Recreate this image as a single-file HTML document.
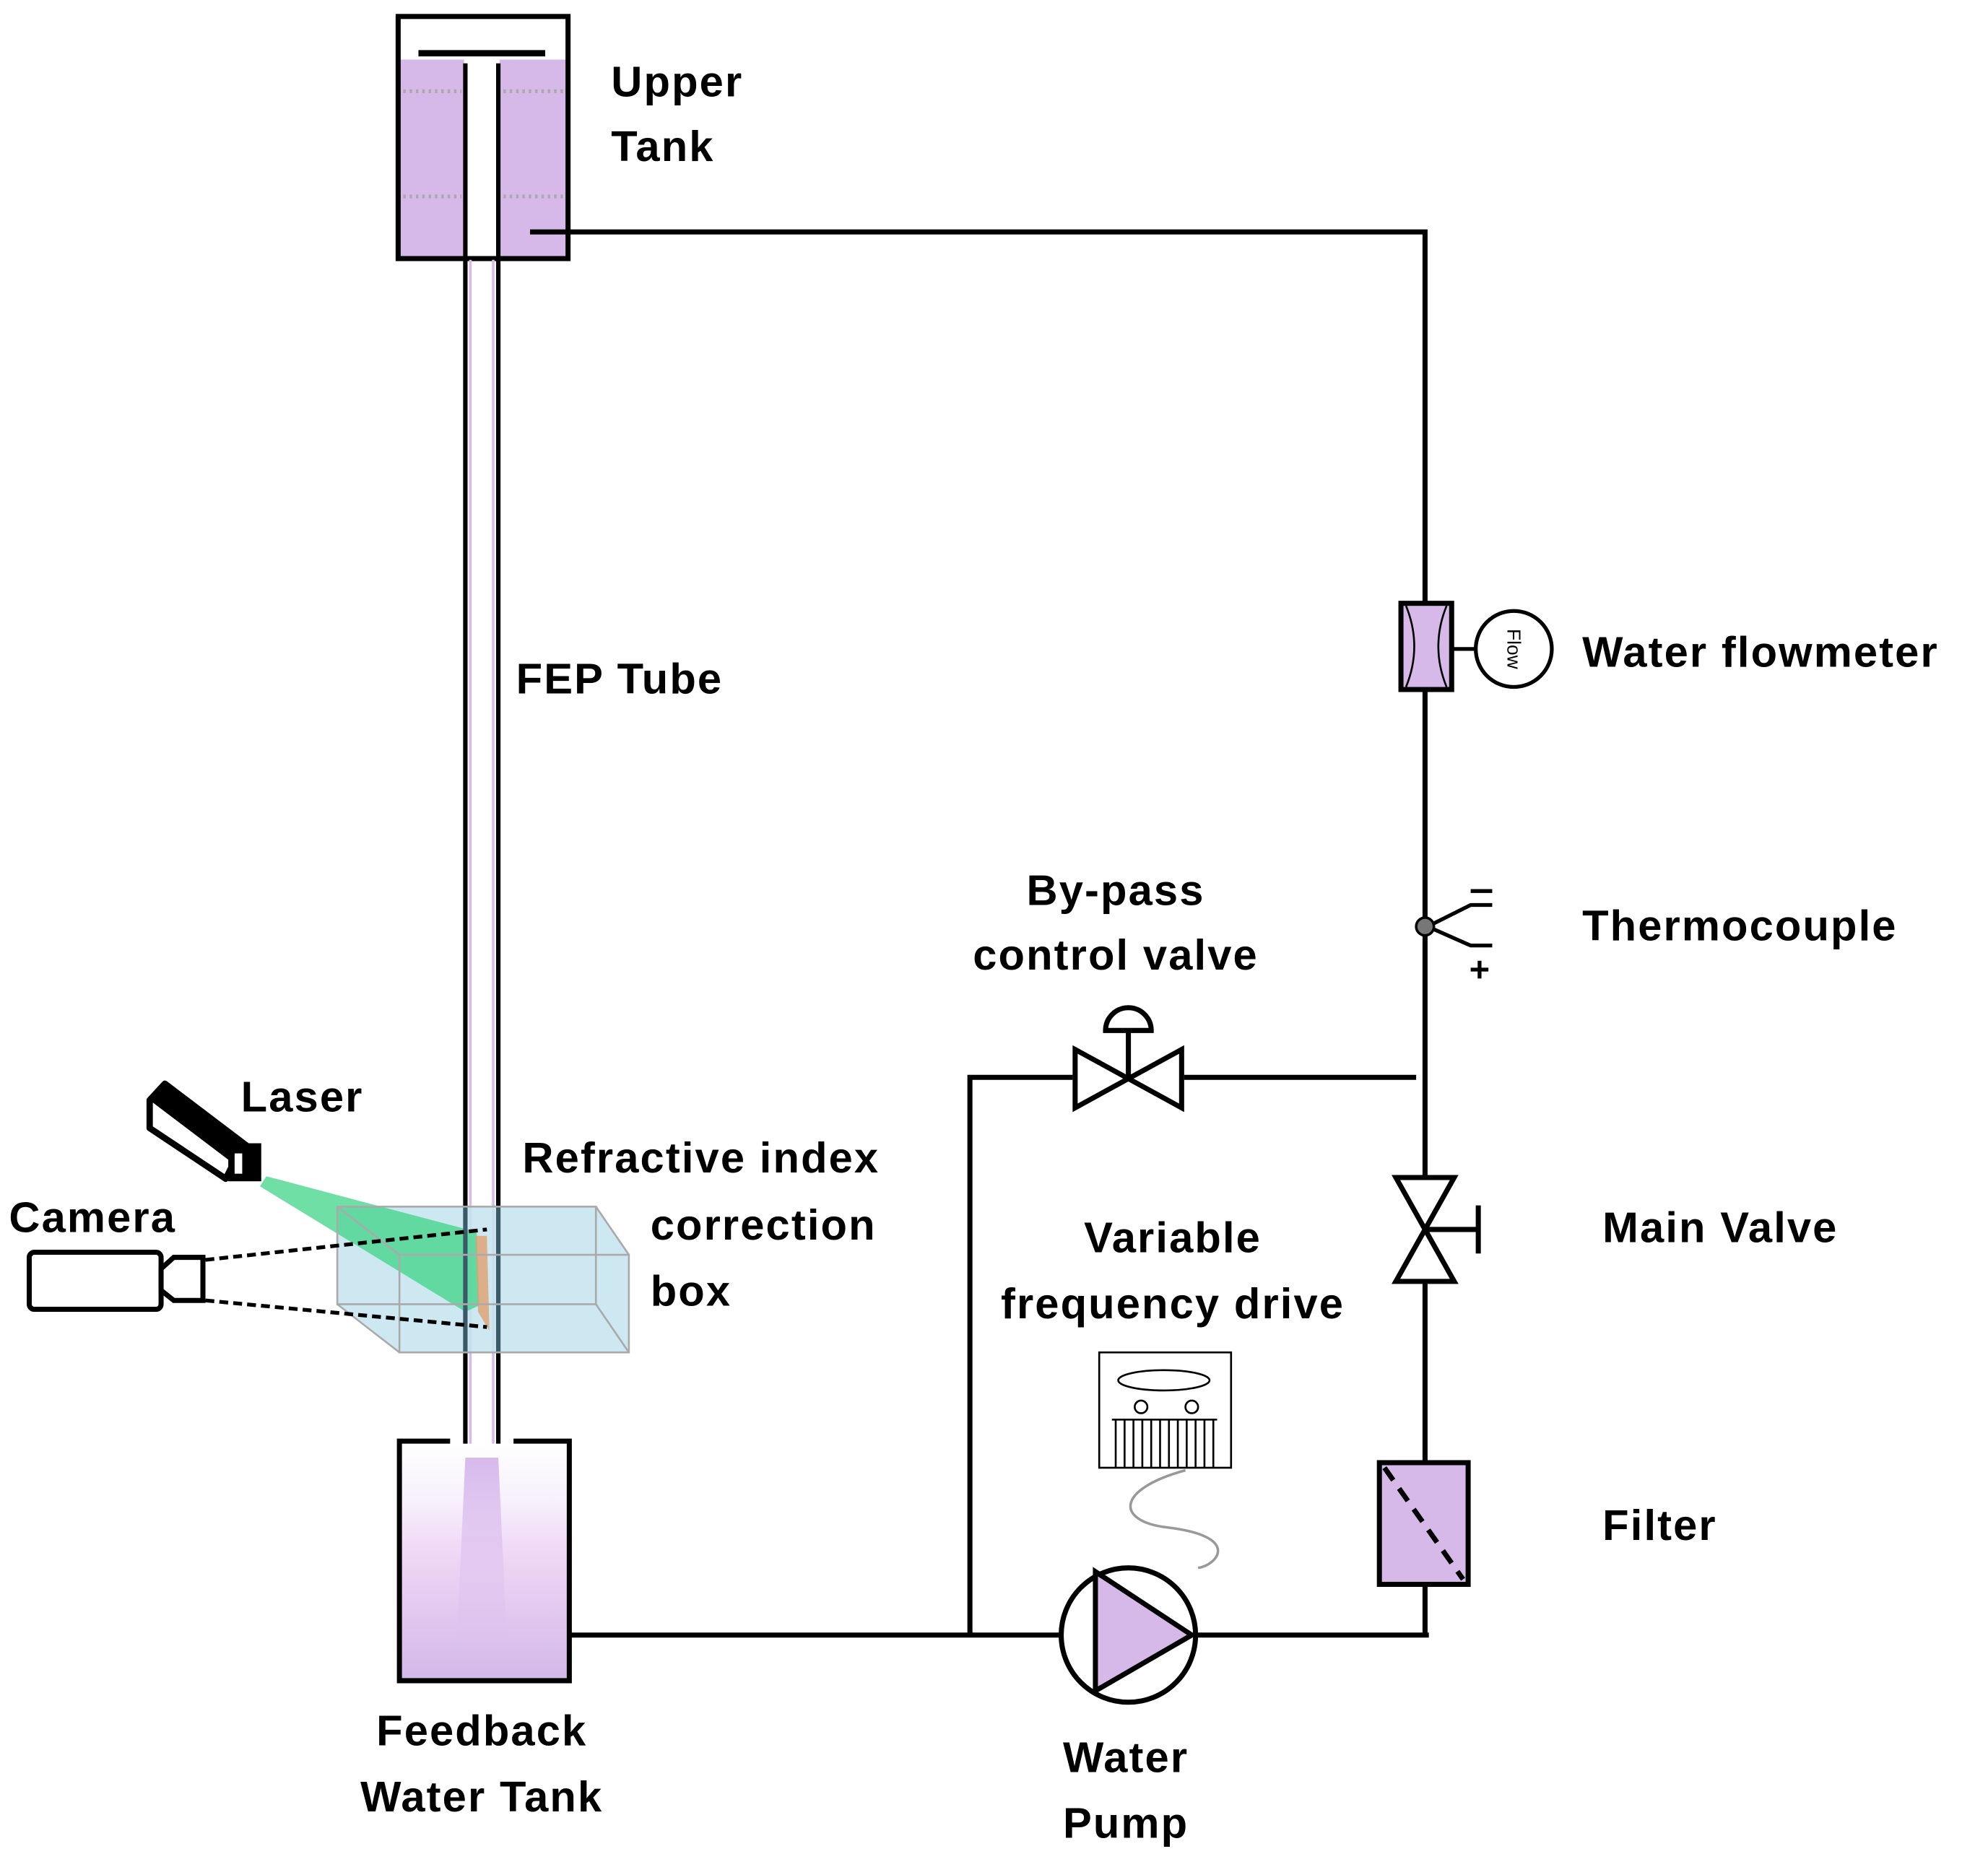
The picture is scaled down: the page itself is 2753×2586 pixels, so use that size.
<!DOCTYPE html>
<html><head><meta charset="utf-8"><style>
html,body{margin:0;padding:0;background:#fff}
svg{display:block}
text{font-family:"Liberation Sans",sans-serif;font-weight:bold;fill:#000;letter-spacing:1.2px}
</style></head><body>
<svg width="2753" height="2586" viewBox="0 0 1568 1473" xmlns="http://www.w3.org/2000/svg">
<defs>
<linearGradient id="fb" x1="0" y1="0" x2="0" y2="1">
<stop offset="0" stop-color="#fff"/><stop offset="0.25" stop-color="#f6f0fb"/><stop offset="0.45" stop-color="#f0d8f6"/><stop offset="1" stop-color="#d3b8e8"/>
</linearGradient>
<linearGradient id="jet" x1="0" y1="0" x2="0" y2="1">
<stop offset="0" stop-color="#d7b9ec"/><stop offset="1" stop-color="#d7b9ec" stop-opacity="0"/>
</linearGradient>
</defs>
<rect width="1568" height="1473" fill="#fff"/>

<!-- Upper tank -->
<rect x="315" y="47" width="132" height="156" fill="#d6b9e8"/>
<rect x="366" y="47" width="28" height="156" fill="#fff"/>
<g stroke="#aaa" stroke-width="3" stroke-dasharray="2 3">
<line x1="318" y1="72" x2="364" y2="72"/><line x1="397" y1="72" x2="445" y2="72"/>
<line x1="318" y1="155" x2="364" y2="155"/><line x1="397" y1="155" x2="445" y2="155"/>
</g>
<rect x="314" y="13" width="134" height="191" fill="none" stroke="#000" stroke-width="4"/>
<line x1="330" y1="42" x2="430" y2="42" stroke="#000" stroke-width="5"/>

<!-- FEP tube -->
<line x1="371" y1="205" x2="371" y2="1155" stroke="#d7b9ec" stroke-width="2"/>
<line x1="389" y1="205" x2="389" y2="1155" stroke="#d7b9ec" stroke-width="2"/>
<line x1="367" y1="50" x2="367" y2="1155" stroke="#000" stroke-width="3.5"/>
<line x1="393" y1="50" x2="393" y2="1155" stroke="#000" stroke-width="3.5"/>

<!-- Feedback tank -->
<rect x="315" y="1139" width="134" height="186" fill="url(#fb)"/>
<polygon points="367,1150 393,1150 400,1300 360,1300" fill="url(#jet)"/>
<polyline points="355,1137 315,1137 315,1326 449,1326 449,1137 405,1137" fill="none" stroke="#000" stroke-width="4"/>

<!-- main loop -->
<g stroke="#000" stroke-width="4" fill="none">
<polyline points="418,183 1124,183 1124,1290"/>
<line x1="449" y1="1290" x2="1127" y2="1290"/>
<polyline points="765,1290 765,850 846,850"/>
<line x1="934" y1="850" x2="1117" y2="850"/>
</g>

<!-- bypass valve -->
<g stroke="#000" stroke-width="4" fill="#fff">
<polygon points="848,828 848,874 932,828 932,874"/>
<line x1="890" y1="851" x2="890" y2="813"/>
<path d="M872,813 A18,18 0 0 1 908,813 Z"/>
</g>

<!-- main valve -->
<g stroke="#000" stroke-width="4" fill="#fff">
<polygon points="1101,929 1147,929 1101,1011 1147,1011"/>
<line x1="1124" y1="970" x2="1166" y2="970"/>
<line x1="1166" y1="951" x2="1166" y2="989"/>
</g>

<!-- flowmeter -->
<rect x="1105" y="476" width="40" height="68" fill="#d6b9e8" stroke="#000" stroke-width="4"/>
<path d="M1109,478 Q1122,510 1109,542 M1141,478 Q1128,510 1141,542" fill="none" stroke="#000" stroke-width="1.5"/>
<line x1="1145" y1="512" x2="1164" y2="512" stroke="#000" stroke-width="3"/>
<circle cx="1194" cy="512" r="30" fill="#fff" stroke="#000" stroke-width="3"/>
<text x="1194" y="512" transform="rotate(90 1194 512)" text-anchor="middle" dominant-baseline="central" style="font-size:15px;font-weight:normal;letter-spacing:0">Flow</text>

<!-- thermocouple -->
<g stroke="#000" stroke-width="3" fill="none">
<polyline points="1126,731 1160,714 1177,714"/>
<polyline points="1126,731 1160,746 1177,746"/>
<line x1="1160" y1="703" x2="1177" y2="703"/>
<line x1="1160" y1="765" x2="1174" y2="765"/><line x1="1167" y1="758" x2="1167" y2="772"/>
</g>
<circle cx="1124" cy="731" r="7" fill="#777" stroke="#000" stroke-width="2"/>

<!-- filter -->
<rect x="1088" y="1154" width="70" height="96" fill="#d6b9e8" stroke="#000" stroke-width="4"/>
<line x1="1092" y1="1158" x2="1154" y2="1246" stroke="#000" stroke-width="4" stroke-dasharray="12 8"/>

<!-- pump -->
<circle cx="890" cy="1290" r="53" fill="#fff" stroke="#000" stroke-width="4"/>
<polygon points="864,1240 864,1334 940,1290" fill="#d6b9e8" stroke="#000" stroke-width="4"/>

<!-- VFD -->
<g stroke="#000" stroke-width="1.5" fill="none">
<rect x="867" y="1067" width="104" height="91"/>
<ellipse cx="918" cy="1089" rx="36" ry="8"/>
<circle cx="900" cy="1110" r="5"/><circle cx="940" cy="1110" r="5"/>
<line x1="877" y1="1120" x2="960" y2="1120"/>
<path d="M880,1120V1158M887,1120V1158M894,1120V1158M901,1120V1158M908,1120V1158M915,1120V1158M922,1120V1158M929,1120V1158M936,1120V1158M943,1120V1158M950,1120V1158M957,1120V1158"/>
</g>
<path d="M935,1160 C880,1175 880,1200 920,1205 C980,1212 960,1235 945,1237" fill="none" stroke="#999" stroke-width="2"/>

<!-- correction box -->
<polygon points="266,952 470,952 496,990 496,1067 315,1067 266,1029" fill="#c6e4ef" fill-opacity="0.85"/>
<polygon points="210,928 205,936 367,1035 378,1030 376,972" fill="#3fd487" fill-opacity="0.75"/>
<line x1="367" y1="952" x2="367" y2="1067" stroke="#3a5a6a" stroke-width="3.5"/>
<line x1="393" y1="952" x2="393" y2="1067" stroke="#3a5a6a" stroke-width="3.5"/>
<polygon points="375,975 384,975 386,1050 377,1035" fill="#e0a070" fill-opacity="0.8"/>
<g stroke="#aaa" stroke-width="1.5" fill="none">
<rect x="266" y="952" width="204" height="77"/>
<rect x="315" y="990" width="181" height="77"/>
<line x1="266" y1="952" x2="315" y2="990"/><line x1="470" y1="952" x2="496" y2="990"/>
<line x1="266" y1="1029" x2="315" y2="1067"/><line x1="470" y1="1029" x2="496" y2="1067"/>
</g>

<!-- camera -->
<rect x="23" y="988" width="104" height="45" rx="4" fill="#fff" stroke="#000" stroke-width="4"/>
<polygon points="127,1001 137,992 160,992 160,1026 137,1026 127,1018" fill="#fff" stroke="#000" stroke-width="4"/>
<g stroke="#000" stroke-width="3" stroke-dasharray="7 4">
<line x1="162" y1="994" x2="384" y2="970"/>
<line x1="162" y1="1026" x2="384" y2="1047"/>
</g>

<!-- laser -->
<g stroke="#000" stroke-width="5" fill="#fff" stroke-linejoin="round">
<polygon points="118,868 130,855 196,905 184,918 178,930 118,890"/>
</g>
<polygon points="130,855 196,905 184,918 118,868" fill="#000"/>
<rect x="180" y="902" width="26" height="30" fill="#000"/>
<rect x="185" y="910" width="6" height="16" fill="#fff"/>

<!-- labels -->
<g style="font-size:34px">
<text x="482" y="76">Upper</text>
<text x="482" y="127">Tank</text>
<text x="407" y="547">FEP Tube</text>
<text x="190" y="877">Laser</text>
<text x="7" y="972">Camera</text>
<text x="412" y="925">Refractive index</text>
<text x="513" y="978">correction</text>
<text x="513" y="1030">box</text>
<text x="380" y="1377" text-anchor="middle">Feedback</text>
<text x="380" y="1429" text-anchor="middle">Water Tank</text>
<text x="880" y="714" text-anchor="middle">By-pass</text>
<text x="880" y="765" text-anchor="middle">control valve</text>
<text x="925" y="988" text-anchor="middle">Variable</text>
<text x="925" y="1040" text-anchor="middle">frequency drive</text>
<text x="888" y="1398" text-anchor="middle">Water</text>
<text x="888" y="1450" text-anchor="middle">Pump</text>
<text x="1248" y="526">Water flowmeter</text>
<text x="1248" y="742">Thermocouple</text>
<text x="1264" y="980">Main Valve</text>
<text x="1264" y="1215">Filter</text>
</g>
</svg>
</body></html>
